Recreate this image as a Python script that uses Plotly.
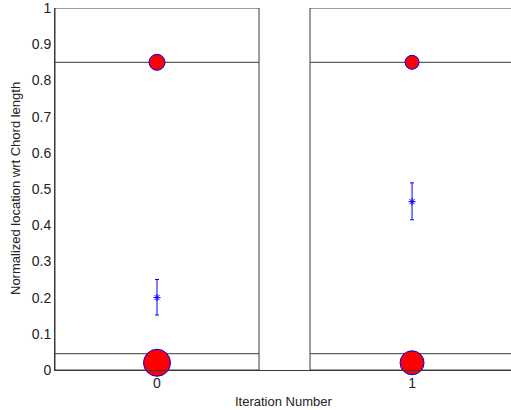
import plotly.graph_objects as go

# Data
iterations = [0, 1]
upper_limit = [0.85, 0.85]
lower_limit = [0.045, 0.045]
upper_pts = [0.85, 0.85]
upper_sizes = [16, 14]
lower_pts = [0.02, 0.02]
lower_sizes = [27, 24]
mean_vals = [0.20, 0.465]
err_plus = [0.05, 0.052]
err_minus = [0.048, 0.05]
yticks = [0, 0.1, 0.2, 0.3, 0.4, 0.5, 0.6, 0.7, 0.8, 0.9, 1]
ytick_text = ["0", "0.1", "0.2", "0.3", "0.4", "0.5", "0.6", "0.7", "0.8", "0.9", "1"]
half_w = 0.4

line_col = "#3a3a3a"
fig = go.Figure()

shapes = []
for i, it in enumerate(iterations):
    shapes.append(dict(type="rect", xref="x", yref="y", x0=it - half_w, x1=it + half_w,
                       y0=0, y1=1, line=dict(color=line_col, width=1), layer="below"))
    for yv in (upper_limit[i], lower_limit[i]):
        shapes.append(dict(type="line", xref="x", yref="y", x0=it - half_w, x1=it + half_w,
                           y0=yv, y1=yv, line=dict(color=line_col, width=1), layer="below"))

fig.add_trace(go.Scatter(x=iterations, y=upper_pts, mode="markers",
                         marker=dict(size=upper_sizes, color="#ff0000", opacity=1,
                                     line=dict(color="#0000ff", width=1)),
                         showlegend=False, cliponaxis=False))
fig.add_trace(go.Scatter(x=iterations, y=lower_pts, mode="markers",
                         marker=dict(size=lower_sizes, color="#ff0000", opacity=1,
                                     line=dict(color="#0000ff", width=1)),
                         showlegend=False, cliponaxis=False))
fig.add_trace(go.Scatter(x=iterations, y=mean_vals, mode="markers",
                         marker=dict(symbol="asterisk-open", size=6, color="#0000ff", opacity=1,
                                     line=dict(color="#0000ff", width=1)),
                         error_y=dict(type="data", symmetric=False, array=err_plus,
                                      arrayminus=err_minus, color="#0000ff", thickness=1, width=2),
                         showlegend=False, cliponaxis=False))

font = dict(family="Liberation Sans, Arial, sans-serif", size=13, color="#222222")
tickfont = dict(family="Liberation Sans, Arial, sans-serif", size=14, color="#222222")

fig.update_layout(
    width=511, height=410,
    margin=dict(l=55, r=0, t=8, b=40),
    paper_bgcolor="white", plot_bgcolor="white",
    font=font,
    shapes=shapes,
    xaxis=dict(range=[-0.4, 1.388], tickvals=iterations, ticktext=[str(v) for v in iterations],
               showgrid=False, zeroline=False, showline=True, linecolor=line_col, linewidth=1,
               ticks="", ticklabelstandoff=0, tickfont=tickfont, ticklabeloverflow="allow"),
    yaxis=dict(range=[0, 1], tickvals=yticks, ticktext=ytick_text,
               showgrid=False, zeroline=False, showline=True, linecolor=line_col, linewidth=1,
               ticks="", tickfont=tickfont, ticklabeloverflow="allow"),
    annotations=[
        dict(text="Iteration Number", xref="paper", yref="paper", x=0.5, y=0,
             xanchor="center", yanchor="top", yshift=-22, showarrow=False, font=font),
        dict(text="Normalized location wrt Chord length", xref="paper", yref="paper",
             x=0, y=0.5, xanchor="center", yanchor="middle", xshift=-40, textangle=-90,
             showarrow=False, font=font),
    ],
)

fig.write_html("out.html")
